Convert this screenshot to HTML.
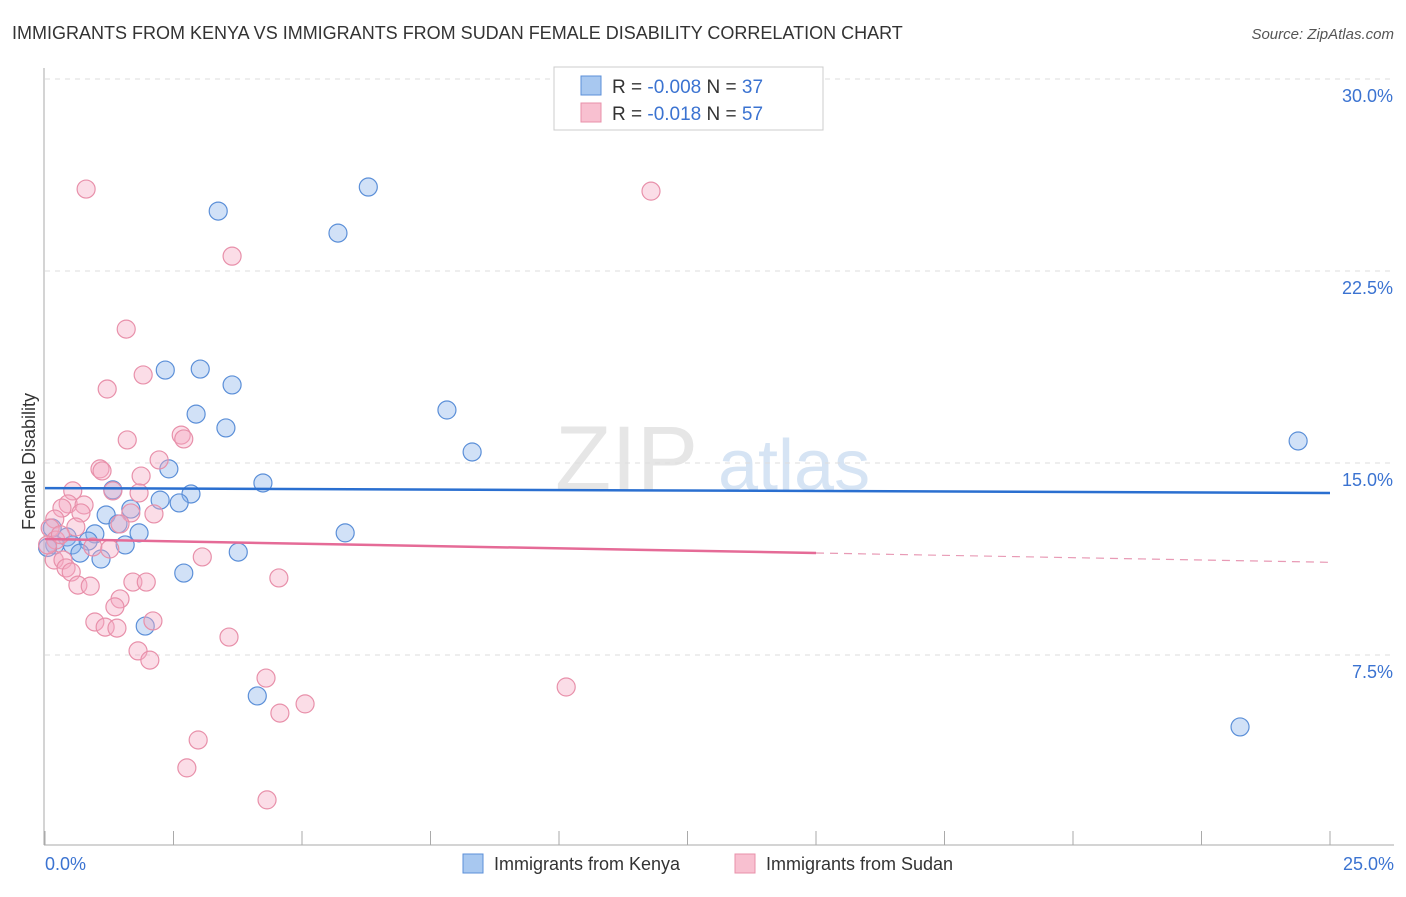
<!DOCTYPE html>
<html><head><meta charset="utf-8"><style>
body{margin:0;background:#fff;font-family:"Liberation Sans",sans-serif}
svg text{font-family:"Liberation Sans",sans-serif}
</style></head><body>
<svg width="1406" height="892">
<text x="12" y="39" font-size="18" fill="#333">IMMIGRANTS FROM KENYA VS IMMIGRANTS FROM SUDAN FEMALE DISABILITY CORRELATION CHART</text>
<text x="1394" y="39" font-size="15" fill="#555" font-style="italic" text-anchor="end">Source: ZipAtlas.com</text>
<text x="555" y="490" font-size="92" fill="#e6e6e6" font-family="Liberation Serif">ZIP</text>
<text x="718" y="490" font-size="72" fill="#d6e4f4">atlas</text>
<g id="grid"></g>
<line x1="44" y1="68" x2="44" y2="845" stroke="#aaa"/>
<line x1="44" y1="845" x2="1394" y2="845" stroke="#aaa"/>
<g id="xticks"></g>
<text x="35" y="530" font-size="18" fill="#333" transform="rotate(-90 35 530)" text-anchor="start">Female Disability</text>
<text x="45" y="870" font-size="18" fill="#3b73d1">0.0%</text>
<text x="1394" y="870" font-size="18" fill="#3b73d1" text-anchor="end">25.0%</text>
<g id="points"></g>
<g id="trends"></g>
<g>
<rect x="554" y="67" width="269" height="63" fill="#fff" stroke="#ccc"/>
<rect x="581" y="76" width="20" height="19" fill="#a8c8f0" stroke="#5b8fd8"/>
<rect x="581" y="103" width="20" height="19" fill="#f8c0d0" stroke="#e890aa"/>
<text x="612" y="93" font-size="19" fill="#333">R = <tspan fill="#3b73d1">-0.008</tspan>   N = <tspan fill="#3b73d1">37</tspan></text>
<text x="612" y="120" font-size="19" fill="#333">R =  <tspan fill="#3b73d1">-0.018</tspan>   N = <tspan fill="#3b73d1">57</tspan></text>
</g>
<g><rect x="463" y="854" width="20" height="19" fill="#a8c8f0" stroke="#5b8fd8"/><text x="494" y="870" font-size="18" fill="#333">Immigrants from Kenya</text></g>
<g><rect x="735" y="854" width="20" height="19" fill="#f8c0d0" stroke="#e890aa"/><text x="766" y="870" font-size="18" fill="#333">Immigrants from Sudan</text></g>
</svg>
<script>
const yTicks=[7.5,15,22.5,30];
const yTickLabels=["7.5%","15.0%","22.5%","30.0%"];
const xTicks=[0,2.5,5,7.5,10,12.5,15,17.5,20,22.5,25];
const kenyaX=[6.29,3.37,5.70,2.34,3.02,3.64,2.94,3.52,7.82,8.31,24.38,2.41,4.24,1.32,2.84,2.24,2.61,1.19,1.67,1.42,0.97,1.83,5.84,0.14,0.43,0.19,0.53,0.84,0.68,1.56,1.09,3.76,2.70,1.95,4.13,23.25,0.05];
const kenyaY=[25.78,24.84,23.98,18.63,18.67,18.05,16.91,16.37,17.07,15.43,15.86,14.77,14.22,13.95,13.79,13.55,13.44,12.97,13.20,12.62,12.23,12.27,12.27,12.46,12.11,11.80,11.80,11.95,11.48,11.80,11.25,11.52,10.70,8.63,5.90,4.69,11.7];
const sudanX=[0.80,11.79,3.64,1.58,1.91,1.21,2.65,2.70,1.60,2.22,1.07,1.11,1.87,0.54,1.32,1.83,0.45,0.76,0.33,1.67,2.12,0.19,0.70,0.60,1.46,0.10,0.21,0.93,1.26,3.06,0.18,0.35,0.41,0.51,4.55,0.64,0.88,1.71,1.97,1.46,1.36,2.10,0.97,1.17,1.40,3.58,1.81,2.04,4.30,10.14,5.06,4.57,2.98,2.76,4.32,0.05,0.3];
const sudanY=[25.70,25.62,23.08,20.23,18.44,17.89,16.09,15.94,15.90,15.12,14.77,14.69,14.49,13.91,13.91,13.83,13.40,13.36,13.24,13.05,13.01,12.81,13.05,12.50,12.62,12.46,11.99,11.72,11.64,11.33,11.21,11.21,10.90,10.74,10.51,10.23,10.19,10.35,10.35,9.69,9.38,8.83,8.79,8.59,8.55,8.20,7.66,7.30,6.60,6.25,5.59,5.23,4.18,3.09,1.84,11.8,12.2];
const kenyaTrend=[14.02,13.83];
const sudanTrend=[12.03,11.12];
const sx=v=>45+v/25*1285;
const sy=v=>847-v/7.5*192;
const NS="http://www.w3.org/2000/svg";
function mk(t,a,p){const e=document.createElementNS(NS,t);for(const k in a)e.setAttribute(k,a[k]);p.appendChild(e);return e;}
const grid=document.getElementById('grid');
yTicks.forEach((t,i)=>{
 const l=mk('line',{x1:45,x2:1394,y1:sy(t),y2:sy(t),stroke:'#ddd','stroke-dasharray':'5,5'},grid);
 
 
 const tx=mk('text',{x:1393,y:sy(t)+23,'font-size':18,fill:'#3b73d1','text-anchor':'end'},grid);
 tx.textContent=yTickLabels[i];
 
 
});
const xt=document.getElementById('xticks');
xTicks.forEach(t=>{
 const l=mk('line',{x1:sx(t),x2:sx(t),y1:831,y2:845,stroke:'#aaa'},xt);
 
 
});
const pts=document.getElementById('points');
kenyaX.forEach((x,i)=>{
 const c=mk('circle',{cx:sx(x),cy:sy(kenyaY[i]),r:9,fill:'rgba(140,180,235,0.4)',stroke:'#5b8fd8','stroke-width':1.2},pts);
 
 
});
sudanX.forEach((x,i)=>{
 const c=mk('circle',{cx:sx(x),cy:sy(sudanY[i]),r:9,fill:'rgba(245,170,195,0.4)',stroke:'#e890aa','stroke-width':1.2},pts);
 
 
});
const tr=document.getElementById('trends');
const kl=mk('line',{x1:sx(0),x2:sx(25),y1:sy(kenyaTrend[0]),y2:sy(kenyaTrend[1]),stroke:'#2a6fd0','stroke-width':2.5},tr);


const sMid=sudanTrend[0]+(sudanTrend[1]-sudanTrend[0])*0.6;
const sl=mk('line',{x1:sx(0),x2:sx(15),y1:sy(sudanTrend[0]),y2:sy(sMid),stroke:'#e56b97','stroke-width':2.5},tr);


const sd=mk('line',{x1:sx(15),x2:sx(25),y1:sy(sMid),y2:sy(sudanTrend[1]),stroke:'#e89ab5','stroke-width':1.2,'stroke-dasharray':'8,6'},tr);


</script>
</body></html>
